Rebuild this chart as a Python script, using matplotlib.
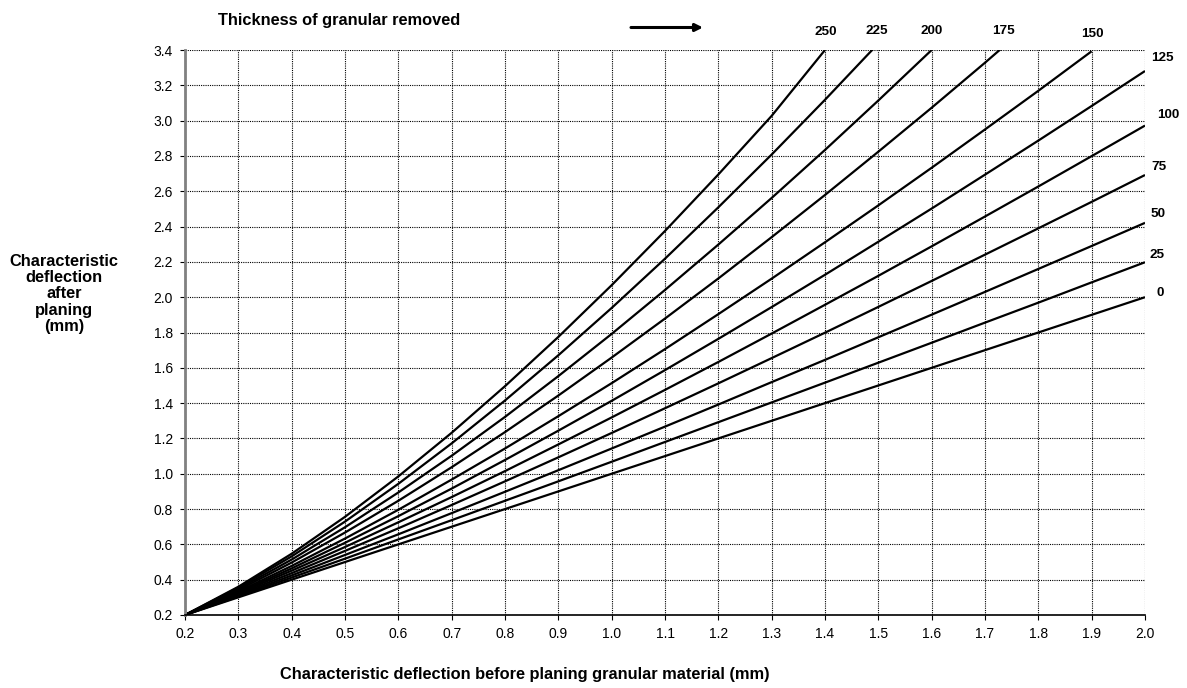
import matplotlib.pyplot as plt

plt.rcParams['font.family'] = ['Liberation Sans', 'DejaVu Sans']

# deflection before planing (mm)
x_before = [0.2, 0.3, 0.4, 0.5, 0.6, 0.7, 0.8, 0.9, 1.0, 1.1,
            1.2, 1.3, 1.4, 1.5, 1.6, 1.7, 1.8, 1.9, 2.0]

# deflection after planing for each thickness removed (mm)
after_0 = [0.20, 0.30, 0.40, 0.50, 0.60, 0.70, 0.80, 0.90, 1.00, 1.10,
           1.20, 1.30, 1.40, 1.50, 1.60, 1.70, 1.80, 1.90, 2.00]
after_25 = [0.20, 0.305, 0.412, 0.519, 0.628, 0.737, 0.847, 0.957, 1.068, 1.180,
            1.292, 1.404, 1.516, 1.629, 1.742, 1.856, 1.969, 2.084, 2.198]
after_50 = [0.20, 0.310, 0.424, 0.540, 0.657, 0.777, 0.898, 1.020, 1.143, 1.267,
            1.392, 1.519, 1.645, 1.773, 1.901, 2.030, 2.160, 2.290, 2.421]
after_75 = [0.20, 0.316, 0.437, 0.563, 0.691, 0.823, 0.957, 1.093, 1.231, 1.371,
            1.512, 1.655, 1.799, 1.945, 2.092, 2.241, 2.390, 2.540, 2.692]
after_100 = [0.20, 0.322, 0.451, 0.585, 0.725, 0.868, 1.015, 1.166, 1.319, 1.475,
             1.633, 1.794, 1.957, 2.121, 2.288, 2.457, 2.627, 2.799, 2.972]
after_125 = [0.20, 0.327, 0.464, 0.609, 0.760, 0.916, 1.078, 1.244, 1.413, 1.587,
             1.764, 1.944, 2.127, 2.314, 2.502, 2.694, 2.887, 3.083, 3.281]
after_150 = [0.20, 0.333, 0.478, 0.633, 0.796, 0.967, 1.143, 1.326, 1.513, 1.706,
             1.904, 2.105, 2.311, 2.520, 2.733, 2.950, 3.169, 3.393]
after_175 = [0.20, 0.341, 0.497, 0.667, 0.847, 1.037, 1.236, 1.443, 1.658, 1.879,
             2.106, 2.340, 2.579, 2.824, 3.073, 3.328, 3.590]
after_200 = [0.20, 0.348, 0.514, 0.697, 0.894, 1.102, 1.322, 1.553, 1.792, 2.041,
             2.298, 2.562, 2.834, 3.114, 3.400]
after_225 = [0.20, 0.355, 0.532, 0.729, 0.943, 1.172, 1.415, 1.671, 1.939, 2.218,
             2.509, 2.808, 3.118, 3.437]
after_250 = [0.20, 0.360, 0.547, 0.756, 0.985, 1.232, 1.496, 1.775, 2.068, 2.375,
             2.695, 3.027, 3.400]

curves = [after_0, after_25, after_50, after_75, after_100, after_125,
          after_150, after_175, after_200, after_225, after_250]
thickness = ['0', '25', '50', '75', '100', '125', '150', '175', '200', '225', '250']

x_ticks = [0.2, 0.3, 0.4, 0.5, 0.6, 0.7, 0.8, 0.9, 1.0, 1.1,
           1.2, 1.3, 1.4, 1.5, 1.6, 1.7, 1.8, 1.9, 2.0]
y_ticks = [0.2, 0.4, 0.6, 0.8, 1.0, 1.2, 1.4, 1.6, 1.8, 2.0,
           2.2, 2.4, 2.6, 2.8, 3.0, 3.2, 3.4]

W, H = 1187, 688
fig = plt.figure(figsize=(W / 100, H / 100), dpi=100)
ax = fig.add_axes([185 / W, 1 - 615 / H, (1145 - 185) / W, (615 - 50) / H])

for ys in curves:
    ax.plot(x_before[:len(ys)], ys, color='black', lw=1.6, solid_capstyle='butt')

ax.set_xlim(0.2, 2.0)
ax.set_ylim(0.2, 3.4)
ax.set_xticks(x_ticks)
ax.set_yticks(y_ticks)
ax.set_xticklabels([f'{v:.1f}' for v in x_ticks])
ax.set_yticklabels([f'{v:.1f}' for v in y_ticks])
ax.tick_params(labelsize=10, length=3.6, width=0.8, direction='out', pad=5)
ax.grid(True, color='black', linestyle=(0, (1, 1)), lw=0.8)
ax.set_axisbelow(True)

for side in ['top', 'right']:
    ax.spines[side].set_visible(False)
ax.spines['left'].set_color('#808080')
ax.spines['left'].set_linewidth(2)
ax.spines['bottom'].set_color('black')
ax.spines['bottom'].set_linewidth(1.2)

# labels for each thickness, along the top and right
label_pos = {'250': (826, 32), '225': (877, 31), '200': (932, 31), '175': (1004, 31),
             '150': (1092, 34), '125': (1162, 58), '100': (1168, 115),
             '75': (1159, 167), '50': (1158, 214), '25': (1157, 255), '0': (1160, 293)}
for t in thickness:
    px, py = label_pos[t]
    fig.text(px / W, 1 - py / H, t, fontsize=9.7, fontweight='bold',
             ha='center', va='center')

fig.text(218 / W, 1 - 20.5 / H, 'Thickness of granular removed', fontsize=11.8,
         fontweight='bold', ha='left', va='center')
ax.annotate('', xy=(703 / W, 1 - 27.5 / H), xytext=(631 / W, 1 - 27.5 / H),
            xycoords='figure fraction', textcoords='figure fraction',
            arrowprops=dict(arrowstyle='-|>', lw=2.2, color='black',
                            mutation_scale=11, shrinkA=0, shrinkB=0))

fig.text(64 / W, 1 - 294 / H, 'Characteristic\ndeflection\nafter\nplaning\n(mm)',
         fontsize=11.8, fontweight='bold', ha='center', va='center', linespacing=1.12)
fig.text(280 / W, 1 - 675 / H,
         'Characteristic deflection before planing granular material (mm)',
         fontsize=11.8, fontweight='bold', ha='left', va='center')

fig.savefig('out.png', dpi=100)
